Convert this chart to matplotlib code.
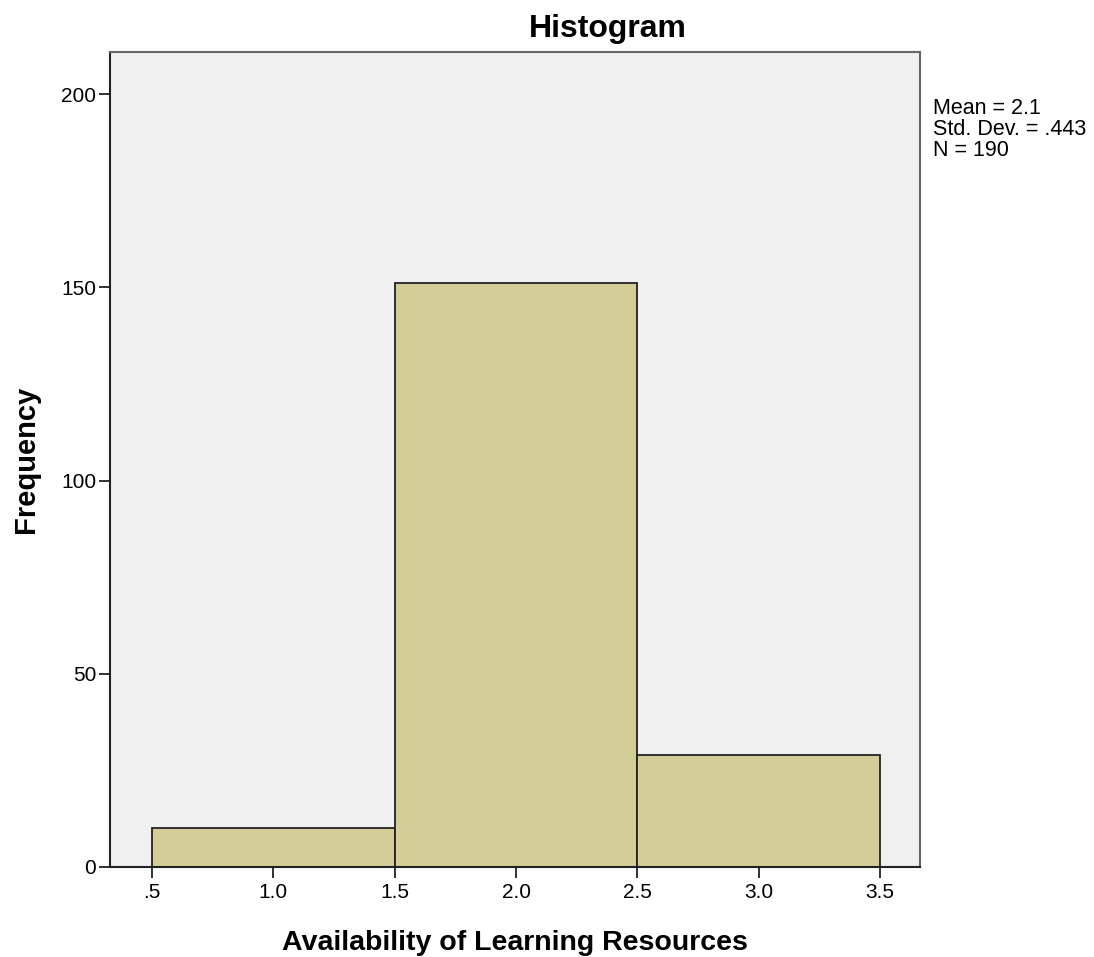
import matplotlib
matplotlib.use('Agg')
import matplotlib.pyplot as plt

bin_edges = [0.5, 1.5, 2.5, 3.5]
counts = [10, 151, 29]
xticks = [0.5, 1.0, 1.5, 2.0, 2.5, 3.0, 3.5]
xtick_labels = ['.5', '1.0', '1.5', '2.0', '2.5', '3.0', '3.5']
yticks = [0, 50, 100, 150, 200]
stats_lines = ['Mean = 2.1', 'Std. Dev. = .443', 'N = 190']

plt.rcParams['font.family'] = ['Liberation Sans', 'DejaVu Sans']

fig = plt.figure(figsize=(10.94, 9.57), dpi=100)
ax = fig.add_axes([110/1094, 90/957, 810/1094, 815/957])
ax.set_facecolor('#F0F0F0')

widths = [bin_edges[i+1] - bin_edges[i] for i in range(len(counts))]
ax.bar(bin_edges[:-1], counts, width=widths, align='edge',
       color='#D3CE98', edgecolor='#222222', linewidth=1.3)

ax.set_xlim(0.327, 3.664)
ax.set_ylim(0, 210.9)
ax.set_xticks(xticks)
ax.set_xticklabels(xtick_labels)
ax.set_yticks(yticks)
ax.tick_params(axis='both', labelsize=15, length=8, width=1.3, color='#222222')
ax.tick_params(axis='x', pad=3.5)
ax.tick_params(axis='y', pad=2)
for side in ['left', 'bottom']:
    ax.spines[side].set_color('#222222')
    ax.spines[side].set_linewidth(1.5)
for side in ['top', 'right']:
    ax.spines[side].set_color('#666666')
    ax.spines[side].set_linewidth(1.5)

ax.set_xlabel('Availability of Learning Resources', fontsize=20.5,
              fontweight='bold', labelpad=20)
ax.set_ylabel('Frequency', fontsize=21, fontweight='bold', labelpad=15)

fig.text(608/1094, 1 - 37/957, 'Histogram', fontsize=23, fontweight='bold',
         ha='center', va='baseline')
fig.text(933/1094, 1 - 98/957, '\n'.join(stats_lines), fontsize=15.5,
         ha='left', va='top', linespacing=1.0)

fig.savefig('out.png', dpi=100)
